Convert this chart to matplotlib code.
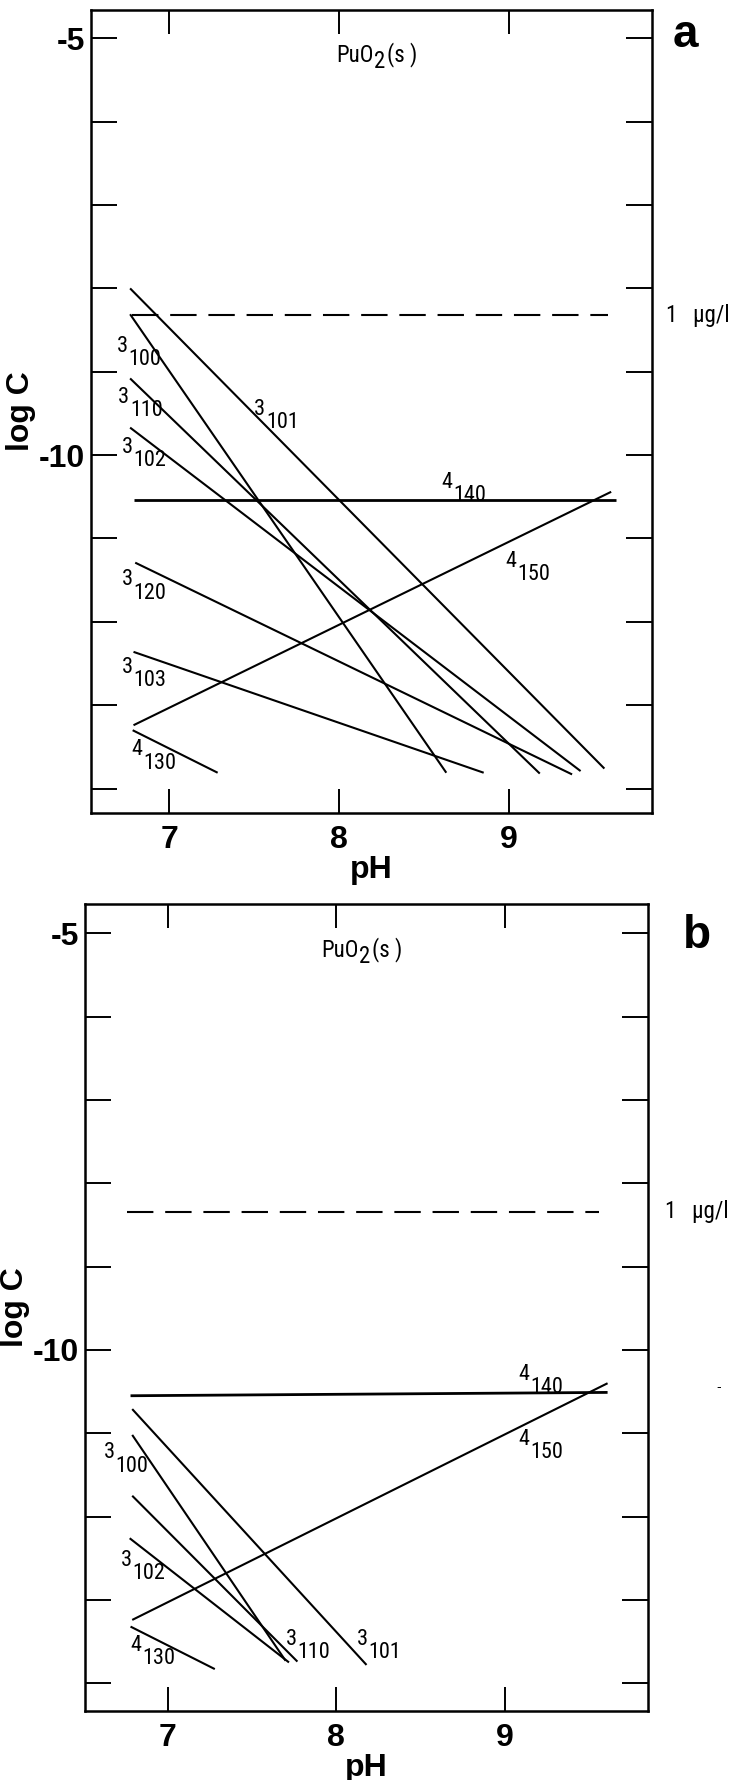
import matplotlib
matplotlib.use('Agg')
import matplotlib.pyplot as plt
from matplotlib import font_manager

# pick fonts that are actually installed
fonts = font_manager.fontManager.ttflist
names = {f.name for f in fonts}
BOLD = 'Liberation Sans' if 'Liberation Sans' in names else 'DejaVu Sans'


def find_narrow():
    plain = [f for f in fonts if f.style == 'normal' and f.weight in (400, 'normal', 'regular', 'book')
             and 'Mono' not in f.name and 'Serif' not in f.name]
    for want in ['Liberation Sans Narrow', 'Arial Narrow', 'Roboto Condensed', 'Open Sans Condensed']:
        for f in plain:
            if f.name == want:
                return f.fname
    for f in plain:
        if 'Narrow' in f.fname or 'Condensed' in f.fname:
            return f.fname
    for f in plain:
        if f.stretch in ('condensed', 'semi-condensed', 'extra-condensed'):
            return f.fname
    return None


NARROW_FILE = find_narrow()


def narrow(size):
    if NARROW_FILE:
        return font_manager.FontProperties(fname=NARROW_FILE, size=size)
    return font_manager.FontProperties(family=BOLD, size=size)


plt.rcParams['font.family'] = [BOLD, 'DejaVu Sans']
plt.rcParams['axes.unicode_minus'] = False
plt.rcParams['lines.scale_dashes'] = False

# panel a: species lines (start / end in pH, log C) and label anchors
a_sup = ['3', '3', '3', '3', '4', '4', '3', '3', '4']
a_sub = ['101', '100', '110', '102', '140', '150', '120', '103', '130']
a_x0 = [6.77, 6.77, 6.77, 6.77, 6.79, 6.79, 6.80, 6.79, 6.785]
a_y0 = [-8.00, -8.31, -9.08, -9.67, -10.54, -13.24, -11.29, -12.36, -13.30]
a_x1 = [9.56, 8.63, 9.18, 9.42, 9.63, 9.60, 9.37, 8.85, 7.285]
a_y1 = [-13.76, -13.81, -13.82, -13.79, -10.54, -10.44, -13.83, -13.81, -13.81]
a_lx = [7.50, 6.69, 6.70, 6.72, 8.60, 8.98, 6.72, 6.72, 6.78]
a_ly = [-9.52, -8.76, -9.37, -9.97, -10.39, -11.34, -11.56, -12.61, -13.60]

# panel b
b_sup = ['4', '4', '3', '3', '3', '3', '4']
b_sub = ['140', '150', '101', '100', '110', '102', '130']
b_x0 = [6.78, 6.79, 6.79, 6.79, 6.79, 6.775, 6.78]
b_y0 = [-10.55, -13.24, -10.71, -11.02, -11.75, -12.26, -13.32]
b_x1 = [9.61, 9.61, 8.18, 7.70, 7.77, 7.72, 7.28]
b_y1 = [-10.51, -10.40, -13.78, -13.73, -13.74, -13.75, -13.83]
b_lx = [9.08, 9.08, 8.12, 6.62, 7.70, 6.72, 6.78]
b_ly = [-10.36, -11.14, -13.54, -11.30, -13.54, -12.59, -13.61]

# 1 ug/l level and its extent
a_ug = [6.78, 9.58, -8.32]
b_ug = [6.76, 9.56, -8.34]

yticks = list(range(-14, -4))
ylabels = ['-5' if t == -5 else '-10' if t == -10 else '' for t in yticks]
xticks = [7, 8, 9]
xlabels = ['7', '8', '9']


def panel(ax, sup, sub, x0, y0, x1, y1, lx, ly, ug, xlim, ylim, pu_x, ug_x):
    for i in range(len(sup)):
        lw = 2.0 if sub[i] == '140' else 1.5
        ax.plot([x0[i], x1[i]], [y0[i], y1[i]], color='black', lw=lw,
                solid_capstyle='butt')
        ax.annotate(sup[i], (lx[i], ly[i]), xytext=(0, 0), textcoords='offset points',
                    ha='left', va='baseline', fontproperties=narrow(16))
        ax.annotate(sub[i], (lx[i], ly[i]), xytext=(8.6, -9.6), textcoords='offset points',
                    ha='left', va='baseline', fontproperties=narrow(16))
    ax.plot([ug[0], ug[1]], [ug[2], ug[2]], color='black', lw=1.5,
            linestyle=(0, (19, 8.5)))
    ax.text(ug_x, ug[2], '1   \u00b5g/l', ha='left', va='center',
            fontproperties=narrow(16.5))

    # PuO2(s) written in three pieces so the 2 can sit low
    t1 = ax.text(pu_x, -5.28, 'PuO', ha='left', va='baseline', fontproperties=narrow(16.5))
    t2 = ax.annotate('2', xy=(1, 0), xycoords=t1, xytext=(0.5, -4.5),
                     textcoords='offset points', ha='left', va='bottom',
                     fontproperties=narrow(16.5))
    ax.annotate('(s )', xy=(1, 0), xycoords=(t2, t1), xytext=(1.5, 0),
                textcoords='offset points', ha='left', va='bottom',
                fontproperties=narrow(16.5))

    ax.set_xlim(*xlim)
    ax.set_ylim(*ylim)
    ax.set_xticks(xticks)
    ax.set_xticklabels(xlabels, fontweight='bold')
    ax.set_yticks(yticks)
    ax.set_yticklabels(ylabels, fontweight='bold')
    ax.tick_params(direction='in', top=True, right=True, width=1.4, labelsize=23)
    ax.tick_params(axis='x', length=17, pad=9)
    ax.tick_params(axis='y', length=19, pad=4)
    for s in ax.spines.values():
        s.set_linewidth(1.8)
    ax.set_xlabel('pH', fontsize=23, fontweight='bold', labelpad=0)
    ax.set_ylabel('log C', fontsize=23, fontweight='bold', labelpad=2)


fig = plt.figure(figsize=(7.31, 17.8), dpi=100)
ax_a = fig.add_axes([0.1245, 0.5434, 0.7674, 0.451])
ax_b = fig.add_axes([0.1163, 0.0389, 0.7702, 0.4532])

panel(ax_a, a_sup, a_sub, a_x0, a_y0, a_x1, a_y1, a_lx, a_ly, a_ug,
      (6.54, 9.84), (-14.29, -4.66), 7.98, 9.92)
panel(ax_b, b_sup, b_sub, b_x0, b_y0, b_x1, b_y1, b_lx, b_ly, b_ug,
      (6.51, 9.85), (-14.33, -4.65), 7.91, 9.95)

fig.text(673 / 731, 1 - 46.7 / 1780, 'a', fontsize=33, fontweight='bold', va='baseline')
fig.text(683 / 731, 1 - 948 / 1780, 'b', fontsize=33, fontweight='bold', va='baseline')
fig.text(716 / 731, 1 - 1387 / 1780, '-', fontsize=10, va='center')

fig.savefig('out.png', dpi=100)
